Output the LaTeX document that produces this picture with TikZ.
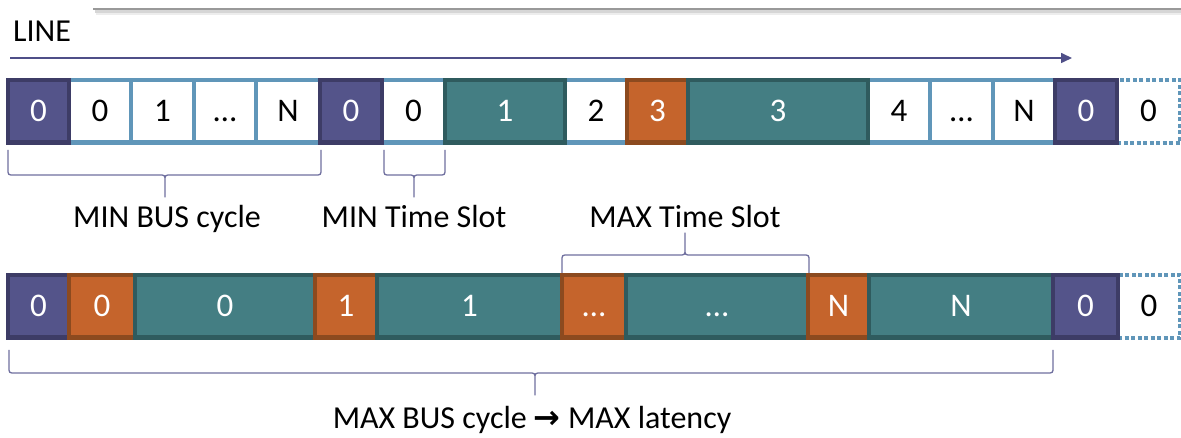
\documentclass[tikz,border=0pt]{standalone}
\usepackage{fontspec}
\setmainfont{Carlito}
\newfontfamily\djv{DejaVu Sans}
\usetikzlibrary{arrows.meta,calc}
\definecolor{pfill}{HTML}{54548A}
\definecolor{pdraw}{HTML}{3D3C66}
\definecolor{bdraw}{HTML}{6096B9}
\definecolor{tfill}{HTML}{447E83}
\definecolor{tdraw}{HTML}{2F5B5E}
\definecolor{ofill}{HTML}{C5642C}
\definecolor{odraw}{HTML}{8C4A1F}
\definecolor{arrowc}{HTML}{4F4F88}
\definecolor{bracec}{HTML}{6E6E9E}
\begin{document}
\begin{tikzpicture}[x=1pt,y=-1pt,
  box/.style={rectangle, minimum height=62.5pt, inner sep=0pt, outer sep=0pt,
    line width=4.5pt, anchor=west, text height=20pt, text depth=0pt,
    font=\fontsize{33}{40}\selectfont},
  pbox/.style={box, draw=pdraw, fill=pfill, text=white},
  wbox/.style={box, draw=bdraw, fill=white, text=black},
  tbox/.style={box, draw=tdraw, fill=tfill, text=white},
  obox/.style={box, draw=odraw, fill=ofill, text=white},
  dbox/.style={box, draw=bdraw, fill=white, text=black, line width=4pt, dash pattern=on 4pt off 2.5pt},
  lab/.style={font=\fontsize{32}{38}\selectfont, anchor=base, inner sep=0pt},
  brace/.style={draw=bracec, line width=1.3pt, line join=round},
  flow/.style={draw=arrowc, line width=1.6pt, -{Triangle[length=11pt,width=10pt]}}
]
\useasboundingbox (0,0) rectangle (1181,438);

% slide edge line with shadow
\draw[line width=3pt, black!7] (96,14) -- (1181,14);
\draw[line width=2.5pt, black!16] (95,11.5) -- (1181,11.5);
\draw[line width=2pt, black!40] (93,9) -- (1181,9);

% LINE label and arrow
\node[lab, anchor=base west] (linelab) at (13,42) {LINE};
\coordinate (ls) at (10,58);
\coordinate (le) at (1072,58);
\draw[flow] (ls) -- (le);

% top row
\def\ty{111.5}
\node[wbox, minimum width=62pt] (t2) at (69,\ty) {0};
\node[wbox, minimum width=63pt] (t3) at (131,\ty) {1};
\node[wbox, minimum width=62pt] (t4) at (194,\ty) {…};
\node[wbox, minimum width=64pt] (t5) at (256,\ty) {N};
\node[wbox, minimum width=63pt] (t7) at (382,\ty) {0};
\node[wbox, minimum width=62pt] (t9) at (565,\ty) {2};
\node[wbox, minimum width=62pt] (t12) at (868,\ty) {4};
\node[wbox, minimum width=63pt] (t13) at (930,\ty) {…};
\node[wbox, minimum width=62pt] (t14) at (993,\ty) {N};
\node[dbox, minimum width=63pt] (t16) at (1117,\ty) {0};
\node[pbox, minimum width=61pt] (t1) at (8,\ty) {0};
\node[pbox, minimum width=62pt] (t6) at (320,\ty) {0};
\node[tbox, minimum width=120pt] (t8) at (445,\ty) {1};
\node[obox, minimum width=61pt] (t10) at (627,\ty) {3};
\node[tbox, minimum width=180pt] (t11) at (688,\ty) {3};
\node[pbox, minimum width=62pt] (t15) at (1055,\ty) {0};

% bottom row
\def\by{306.5}
\node[dbox, minimum width=62pt] (b11) at (1118,\by) {0};
\node[pbox, minimum width=61pt] (b1) at (8,\by) {0};
\node[obox, minimum width=66pt] (b2) at (69,\by) {0};
\node[tbox, minimum width=180pt] (b3) at (135,\by) {0};
\node[obox, minimum width=62pt] (b4) at (315,\by) {1};
\node[tbox, minimum width=185pt] (b5) at (377,\by) {1};
\node[obox, minimum width=64pt] (b6) at (562,\by) {…};
\node[tbox, minimum width=182pt] (b7) at (626,\by) {…};
\node[obox, minimum width=61pt] (b8) at (808,\by) {N};
\node[tbox, minimum width=184pt] (b9) at (869,\by) {N};
\node[pbox, minimum width=65pt] (b10) at (1053,\by) {0};

% braces
% MIN BUS cycle
\draw[brace] (8,150) -- (8,169) .. controls (8,175) .. (14,175) -- (159,175)
  .. controls (165,175) .. (165,181) -- (165,197) -- (165,181)
  .. controls (165,175) .. (171,175) -- (315,175) .. controls (321,175) .. (321,169) -- (321,150);
% MIN Time Slot
\draw[brace] (384,150) -- (384,169) .. controls (384,175) .. (390,175) -- (408,175)
  .. controls (414,175) .. (414,181) -- (414,197) -- (414,181)
  .. controls (414,175) .. (420,175) -- (439,175) .. controls (445,175) .. (445,169) -- (445,150);
% MAX Time Slot (upward)
\draw[brace] (562,273) -- (562,261) .. controls (562,255) .. (568,255) -- (679,255)
  .. controls (685,255) .. (685,249) -- (685,233) -- (685,249)
  .. controls (685,255) .. (691,255) -- (803,255) .. controls (809,255) .. (809,261) -- (809,273);
% MAX BUS cycle
\draw[brace] (9,350) -- (9,367) .. controls (9,373) .. (15,373) -- (529,373)
  .. controls (535,373) .. (535,379) -- (535,395) -- (535,379)
  .. controls (535,373) .. (541,373) -- (1047,373) .. controls (1053,373) .. (1053,367) -- (1053,350);

% labels
\node[lab] (l1) at (167,228) {MIN BUS cycle};
\node[lab] (l2) at (414,228) {MIN Time Slot};
\node[lab] (l3) at (685,228) {MAX Time Slot};
\node[lab] (l4) at (532,428) {MAX BUS cycle {\djv\bfseries\fontsize{32}{38}\selectfont →} MAX latency};
\end{tikzpicture}
\end{document}
